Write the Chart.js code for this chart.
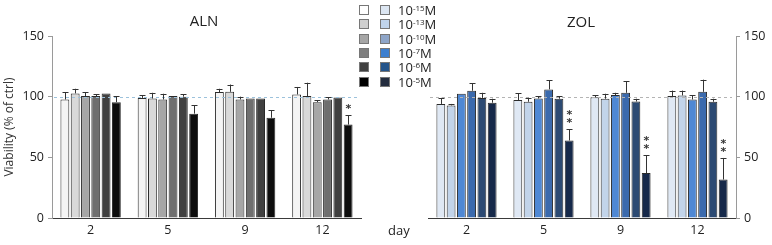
<!DOCTYPE html>
<html>
<head>
<meta charset="utf-8">
<script src="https://cdn.jsdelivr.net/npm/chart.js@4.4.1/dist/chart.umd.min.js"></script>
<style>
  body { margin: 0; width: 772px; height: 245px; overflow: hidden; position: relative; background: #fff;
         font-family: 'Open Sans', sans-serif; color: #222; }
  canvas { position: absolute; top: 0; }
  .lbl { position: absolute; white-space: nowrap; }
  .title { font-size: 15px; transform: translateX(-50%); }
  .legend { position: absolute; left: 359px; top: 3px; font-size: 13px; }
  .row { display: flex; align-items: center; height: 14.3px; }
  .sw { width: 8px; height: 8px; border: 1px solid #777; margin-right: 11px; }
  .sw + .sw { margin-right: 8px; }
  sup { font-size: 8px; vertical-align: 4px; }
</style>
</head>
<body>
<canvas id="aln" width="386" height="245" style="left:0"></canvas>
<canvas id="zol" width="386" height="245" style="left:386px"></canvas>
<div class="lbl title" style="left:204px; top:10px">ALN</div>
<div class="lbl title" style="left:581px; top:11px">ZOL</div>
<div class="lbl" style="left:388px; top:221px; font-size:13px">day</div>
<div class="legend" id="legend"></div>

<script>
// categories
const days = ['2', '5', '9', '12'];
const exponents = ['-15', '-13', '-10', '-7', '-6', '-5'];

// ALN means per concentration (rows) over days (columns), and upper SD
const alnMeans = [
  [97.7, 99.0, 103.8, 101.8],
  [102.7, 98.5, 104.0, 100.5],
  [100.5, 97.7, 97.7, 95.5],
  [100.5, 100.5, 98.5, 97.7],
  [102.7, 100.0, 98.5, 99.4],
  [95.5, 86.0, 82.6, 77.0]
];
const alnErr = [
  [6.1, 2.3, 2.7, 6.2],
  [3.8, 4.7, 6.0, 11.0],
  [3.3, 4.7, 2.3, 1.5],
  [1.3, 0.5, 0.5, 1.9],
  [0.5, 1.8, 0.5, 0.4],
  [5.0, 6.8, 6.0, 7.8]
];
const alnStars = ['', '', '', '*'];

// ZOL
const zolMeans = [
  [94.0, 97.2, 99.6, 100.5],
  [92.8, 95.8, 98.3, 101.0],
  [102.4, 98.5, 101.3, 97.7],
  [104.9, 106.0, 103.2, 104.0],
  [99.0, 98.3, 96.0, 95.8],
  [95.0, 63.9, 37.0, 31.7]
];
const zolErr = [
  [5.0, 5.5, 1.7, 4.5],
  [1.2, 3.2, 4.1, 4.0],
  [0.4, 2.0, 1.9, 3.6],
  [6.1, 7.4, 9.7, 10.0],
  [4.2, 2.2, 2.3, 2.5],
  [3.3, 9.1, 14.7, 17.8]
];
const zolStars = ['', '**', '**', '**'];

const yTicks = [0, 50, 100, 150];

const alnColors = ['#f4f4f4', '#d9d9d9', '#a6a6a6', '#6f6f6f', '#404040', '#0d0d0d'];
const zolColors = ['#dfe8f4', '#c2d4ea', '#4f88d4', '#3b6aad', '#2c4a73', '#16294a'];
const alnLegend = ['#ffffff', '#cfcfcf', '#a6a6a6', '#7f7f7f', '#404040', '#000000'];
const zolLegend = ['#dce6f2', '#c0d4ec', '#8ea5c8', '#3d7fcf', '#24548a', '#242d3f'];

// legend
const legend = document.getElementById('legend');
exponents.forEach((e, i) => {
  const row = document.createElement('div');
  row.className = 'row';
  row.innerHTML = '<div class="sw" style="background:' + alnLegend[i] + '"></div>' +
                  '<div class="sw" style="background:' + zolLegend[i] + '"></div>' +
                  '<span>10<sup>' + e + '</sup>M</span>';
  legend.appendChild(row);
});

// error bars, reference line at 100 and significance stars
const extras = {
  id: 'extras',
  afterDatasetsDraw(chart, args, opts) {
    const ctx = chart.ctx;
    const y = chart.scales.y;
    const area = chart.chartArea;
    ctx.save();
    ctx.setLineDash([3, 3]);
    ctx.strokeStyle = opts.refColor;
    ctx.lineWidth = 1;
    const yr = Math.round(y.getPixelForValue(100)) + 0.5;
    ctx.beginPath();
    ctx.moveTo(area.left + 2, yr);
    ctx.lineTo(area.right - 4, yr);
    ctx.stroke();
    ctx.setLineDash([]);
    ctx.strokeStyle = '#333';
    chart.data.datasets.forEach((ds, di) => {
      const meta = chart.getDatasetMeta(di);
      meta.data.forEach((bar, i) => {
        const err = ds.err[i];
        const x = Math.round(bar.x) + 0.5;
        const yTop = y.getPixelForValue(ds.data[i] + err);
        if (err >= 0.8) {
          ctx.beginPath();
          ctx.moveTo(x, bar.y);
          ctx.lineTo(x, yTop);
          ctx.moveTo(x - 3, Math.round(yTop) + 0.5);
          ctx.lineTo(x + 3, Math.round(yTop) + 0.5);
          ctx.stroke();
        }
        if (di === chart.data.datasets.length - 1 && opts.stars[i]) {
          ctx.fillStyle = '#333';
          ctx.font = 'bold 11px "DejaVu Sans"';
          ctx.textAlign = 'center';
          ctx.textBaseline = 'middle';
          opts.stars[i].split('').forEach((s, k, arr) => {
            ctx.fillText(s, x, yTop - 6 - (arr.length - 1 - k) * 8);
          });
        }
      });
    });
    ctx.restore();
  }
};

function makeChart(id, means, errs, colors, side, stars, refColor) {
  const datasets = means.map((m, i) => ({
    data: m,
    err: errs[i],
    backgroundColor: colors[i],
    borderColor: '#2b2b2b',
    borderWidth: 1,
    barPercentage: 0.86,
    categoryPercentage: 0.8
  }));
  const left = side === 'left';
  return new Chart(document.getElementById(id), {
    type: 'bar',
    data: { labels: days, datasets },
    options: {
      responsive: false,
      animation: false,
      devicePixelRatio: 1,
      layout: { padding: left ? { top: 36, right: 25, left: 0, bottom: 0 } : { top: 36, right: 0, left: 42, bottom: 0 } },
      plugins: { legend: { display: false }, tooltip: { enabled: false }, extras: { stars, refColor } },
      scales: {
        x: {
          grid: { display: false, drawTicks: false },
          border: { display: true, color: '#3a3a3a', width: 1 },
          ticks: { color: '#222', font: { family: 'Open Sans', size: 12.5 }, padding: 5 },
          afterFit: s => { s.height = 27; }
        },
        y: {
          position: side,
          min: 0, max: 150,
          afterBuildTicks: s => { s.ticks = yTicks.map(v => ({ value: v })); },
          grid: { drawOnChartArea: false, drawTicks: true, tickLength: 4, color: '#9a9a9a' },
          border: { display: true, color: '#9a9a9a', width: 1 },
          ticks: { color: '#222', font: { family: 'Open Sans', size: 12.5 }, padding: 4 },
          title: left ? { display: true, text: 'Viability (% of ctrl)', color: '#333',
                          font: { family: 'Open Sans', size: 12 }, padding: 2 } : { display: false },
          afterFit: s => { s.width = left ? 52 : 36; }
        }
      }
    },
    plugins: [extras]
  });
}

makeChart('aln', alnMeans, alnErr, alnColors, 'left', alnStars, '#9cc2dc');
makeChart('zol', zolMeans, zolErr, zolColors, 'right', zolStars, '#b4b4b4');
</script>
</body>
</html>
